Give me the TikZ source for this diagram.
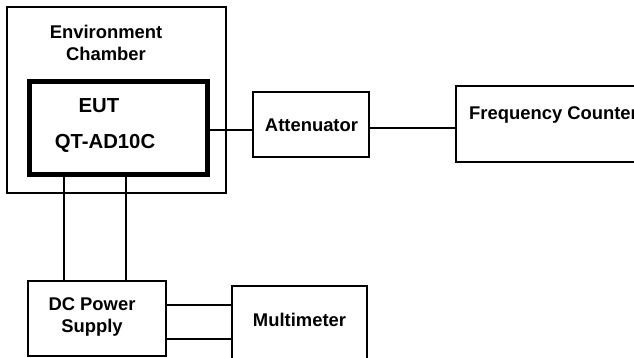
\documentclass[tikz,border=0pt]{standalone}
\usepackage{fontspec}
\setmainfont{Liberation Sans}
\begin{document}
\begin{tikzpicture}[x=1pt,y=-1pt,
  box/.style={draw=black,line width=1.1pt,fill=white,inner sep=0pt,outer sep=0pt},
  lbl/.style={font=\bfseries\fontsize{18.4}{22}\selectfont,inner sep=0pt,text=black},
  big/.style={font=\bfseries\fontsize{20.3}{24}\selectfont,inner sep=0pt,text=black},
  wire/.style={draw=black,line width=1.1pt}]
\useasboundingbox (0,0) rectangle (634,358);
\clip (0,0) rectangle (634,358);
\fill[white] (0,0) rectangle (634,358);
% boxes
\node[box,minimum width=219pt,minimum height=186pt] (chamber) at (116.5,100) {};
\node[box,line width=5pt,minimum width=178pt,minimum height=93pt] (eut) at (118.5,128) {};
\node[box,minimum width=116pt,minimum height=65pt] (att) at (311,124.5) {};
\node[box,minimum width=194pt,minimum height=76pt] (fc) at (553,124) {};
\node[box,minimum width=138pt,minimum height=75pt] (dc) at (97,318.5) {};
\node[box,minimum width=135pt,minimum height=90pt] (mm) at (299.5,331) {};
% labels
\node[lbl,align=center] (chlabel) at (106,43) {Environment\\[0pt]Chamber};
\node[big] (eutlabel) at (99,106) {EUT};
\node[big] (qtlabel) at (105,143) {QT-AD10C};
\node[lbl] (attlabel) at (311.5,125) {Attenuator};
\node[lbl,anchor=west] (fclabel) at (469,115) {Frequency Counter};
\node[lbl,align=center] (dclabel) at (92,317) {DC Power\\[0pt]Supply};
\node[lbl] (mmlabel) at (299.5,320) {Multimeter};
% connectors
\draw[wire] ([yshift=-2pt]eut.east) -- ([yshift=-2pt]eut.east -| att.west);
\draw[wire] ([yshift=-3.5pt]att.east) -- ([yshift=-3.5pt]att.east -| fc.west);
\draw[wire] ([xshift=-54.5pt]eut.south) -- ([xshift=-54.5pt]eut.south |- dc.north);
\draw[wire] ([xshift=7.5pt]eut.south) -- ([xshift=7.5pt]eut.south |- dc.north);
\draw[wire] ([yshift=13.5pt]dc.east) -- ([yshift=13.5pt]dc.east -| mm.west);
\draw[wire] ([yshift=-20.5pt]dc.east) -- ([yshift=-20.5pt]dc.east -| mm.west);
\end{tikzpicture}
\end{document}
